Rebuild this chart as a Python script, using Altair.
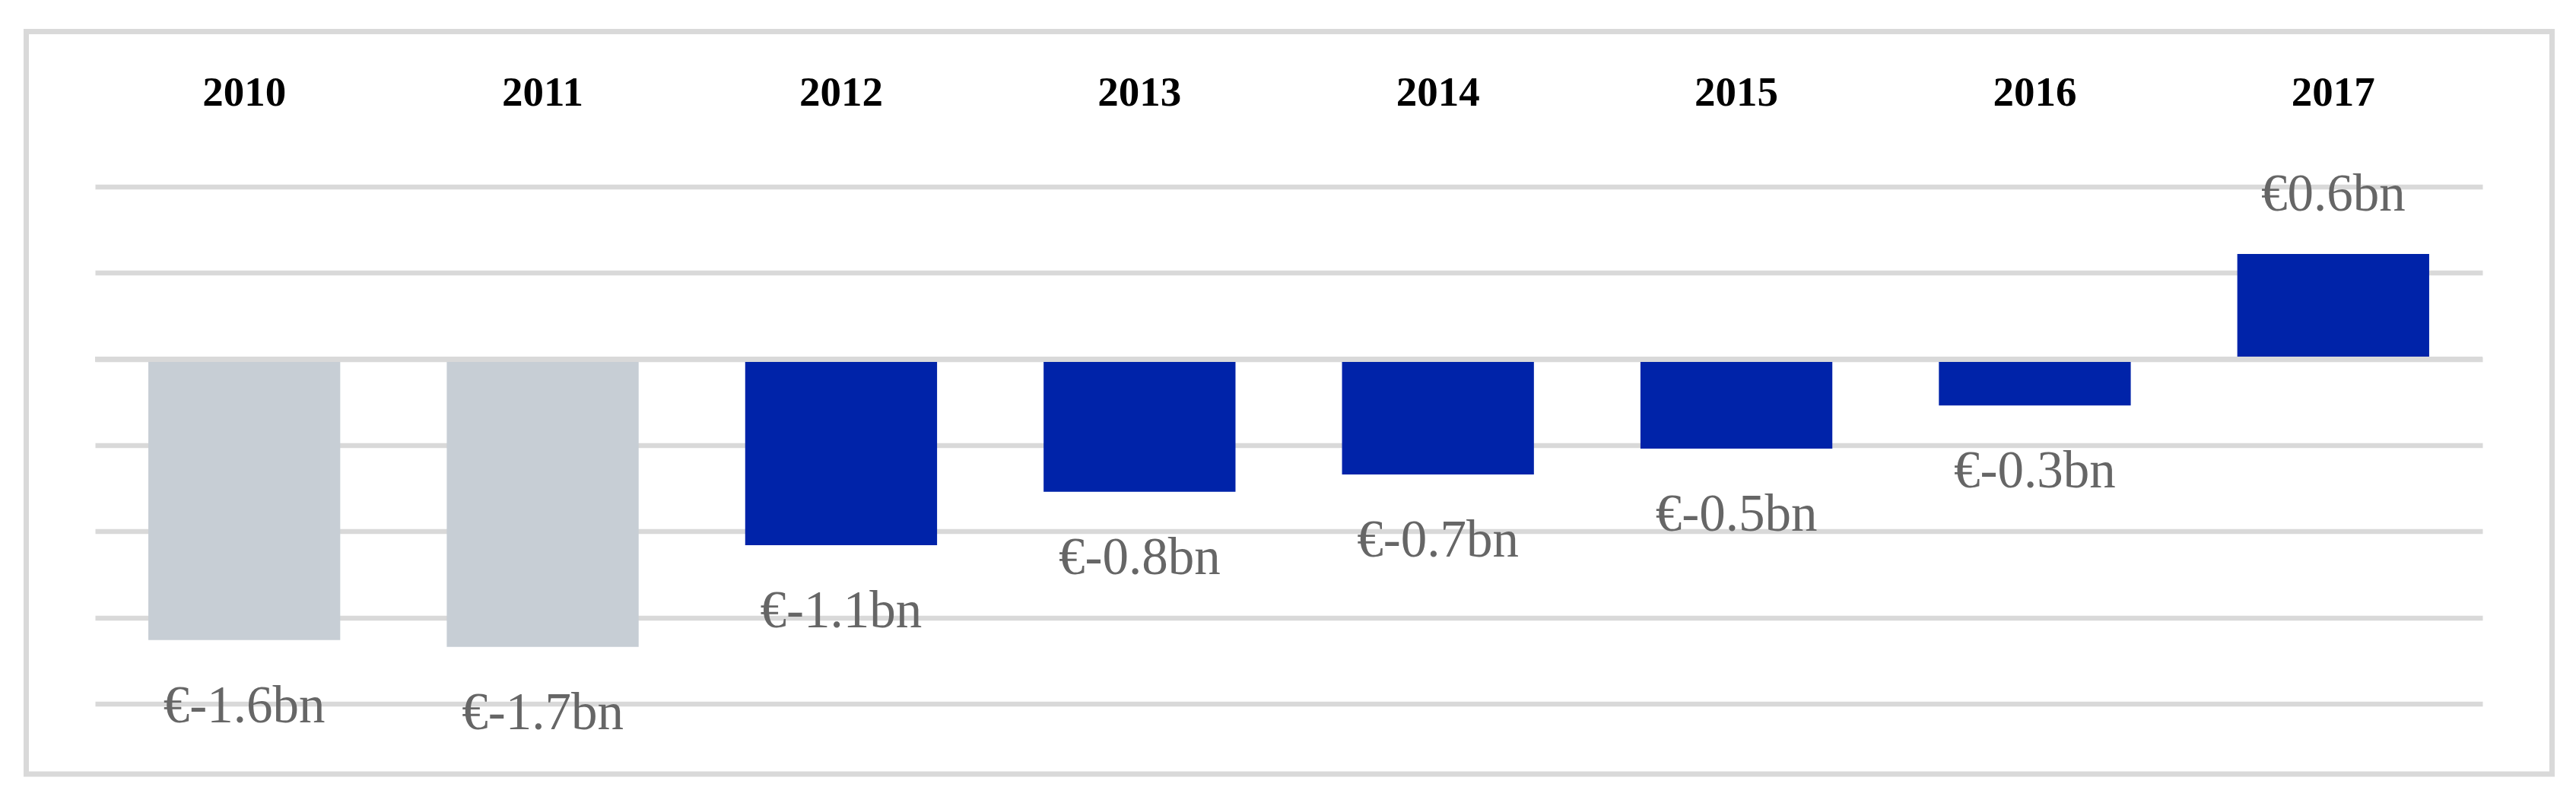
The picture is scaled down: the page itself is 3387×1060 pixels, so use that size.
import altair as alt
import pandas as pd

# ---- data ----
years = ["2010", "2011", "2012", "2013", "2014", "2015", "2016", "2017"]
values = [-1.63, -1.67, -1.08, -0.77, -0.67, -0.52, -0.27, 0.61]
labels = ["€-1.6bn", "€-1.7bn", "€-1.1bn", "€-0.8bn", "€-0.7bn", "€-0.5bn", "€-0.3bn", "€0.6bn"]
groups = ["grey", "grey", "blue", "blue", "blue", "blue", "blue", "blue"]
grid_values = [-2.0, -1.5, -1.0, -0.5, 0.0, 0.5, 1.0]

df = pd.DataFrame({"year": years, "value": values, "label": labels, "group": groups})

GRID = "#D9D9D9"
SERIF = "Liberation Serif"

x_axis = alt.Axis(orient="top", title=None, labelAngle=0, domain=False, ticks=False,
                  tickSize=0, labelPadding=95, labelFont=SERIF, labelFontWeight="bold",
                  labelFontSize=55, labelColor="#000000")
x_enc = alt.X("year:N", sort=years,
              scale=alt.Scale(paddingInner=0.357, paddingOuter=0.1785),
              axis=x_axis)
y_scale = alt.Scale(domain=[-2, 1], nice=False, zero=True)
y_enc = alt.Y("value:Q", scale=y_scale,
              axis=alt.Axis(title=None, labels=False, ticks=False, domain=False,
                            values=grid_values, grid=True, gridColor=GRID, gridWidth=6.5))

base = alt.Chart(df)

bars = base.mark_bar().encode(
    x=x_enc,
    y=y_enc,
    color=alt.Color("group:N",
                    scale=alt.Scale(domain=["grey", "blue"], range=["#C7CED5", "#0023A9"]),
                    legend=None),
)

zero_rule = base.mark_rule(color=GRID, strokeWidth=6.5).encode(y=alt.datum(0, scale=y_scale) if False else alt.datum(0))

neg_labels = base.transform_filter(alt.datum.value < 0).mark_text(
    font=SERIF, fontSize=69, color="#666666", baseline="middle", align="center", dy=87
).encode(x=x_enc, y=alt.Y("value:Q", scale=y_scale), text="label:N")

pos_labels = base.transform_filter(alt.datum.value >= 0).mark_text(
    font=SERIF, fontSize=69, color="#666666", baseline="middle", align="center", dy=-78
).encode(x=x_enc, y=alt.Y("value:Q", scale=y_scale), text="label:N")

frame = alt.Chart(pd.DataFrame({"f": [0]})).mark_rect(
    fill="transparent", stroke=GRID, strokeWidth=7
).encode(x=alt.value(-90.5), x2=alt.value(3230.5), y=alt.value(-204), y2=alt.value(772.5))

chart = alt.layer(bars, zero_rule, neg_labels, pos_labels, frame).properties(
    width=3139,
    height=680,
    autosize=alt.AutoSizeParams(type="none"),
    padding={"left": 117, "top": 237.5, "right": 115, "bottom": 120},
    background="white",
).configure_view(strokeWidth=0)

chart.save("out.html", embed_options={"renderer": "svg", "actions": False})
